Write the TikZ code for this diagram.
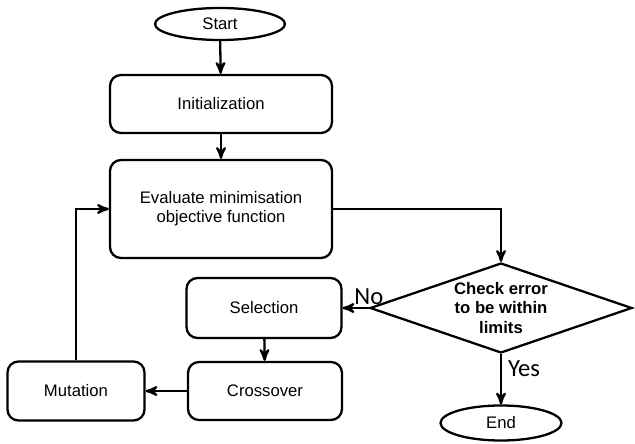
\documentclass[tikz,border=0pt]{standalone}
\usepackage{fontspec}
\setmainfont{Liberation Sans}
\newfontfamily\labelfont{Carlito}
\usepackage{tikz}
\usetikzlibrary{shapes.geometric, positioning, arrows}
\tikzset {
    >=stealth',
    every node/.style={font=\fontsize{9.5}{12}\selectfont},
    process/.style={draw, line width=1.3pt, rounded corners=0.22cm, align=center},
    terminal/.style={draw, ellipse, line width=1.3pt, inner sep=0pt},
    decision/.style={draw, diamond, line width=1.3pt, inner sep=0pt, aspect=2.91},
    decision text/.style={align=center, font=\bfseries\fontsize{9.5}{11}\selectfont},
    flow/.style={->, line width=1.3pt},
    answer/.style={font=\labelfont\fontsize{14}{15}\selectfont}
}

\begin{document}
\begin{tikzpicture}
                        \useasboundingbox (0,0) rectangle (12.7,8.86);

                        \node[terminal, minimum width=2.6cm, minimum height=0.64cm] (start) at (4.40,8.38) {Start};
                        \node[process, minimum width=4.44cm, minimum height=1.16cm] (init) at (4.42,6.78) {Initialization};
                        \node[process, minimum width=4.44cm, minimum height=1.96cm] (eval) at (4.42,4.68) {Evaluate minimisation\\[-1pt]objective function};
                        \node[decision, minimum width=5.24cm, minimum height=1.8cm] (check) at (10.02,2.70) {};
                        \node[decision text] (checktext) at (check.center) {Check error\\to be within\\limits};
                        \node[process, minimum width=3.1cm, minimum height=1.2cm] (sel) at (5.28,2.70) {Selection};
                        \node[process, minimum width=3.08cm, minimum height=1.16cm] (cross) at (5.30,1.04) {Crossover};
                        \node[process, minimum width=2.74cm, minimum height=1.18cm] (mut) at (1.52,1.04) {Mutation};
                        \node[terminal, minimum width=2.42cm, minimum height=0.7cm] (end) at (10.02,0.40) {End};

                        \draw[flow] (start) -- (init);
                        \draw[flow] (init) -- (eval);
                        \draw[flow] (eval.east) -| (check.north);
                        \draw[flow] (check.west) -- node[answer, above, pos=0, inner sep=1pt] {No} (sel.east);
                        \draw[flow] (check.south) -- node[answer, right, pos=0.28] {Yes} (end.north);
                        \draw[flow] (sel) -- (cross);
                        \draw[flow] (cross) -- (mut);
                        \draw[flow] (mut.north) |- (eval.west);
                    \end{tikzpicture}
\end{document}
